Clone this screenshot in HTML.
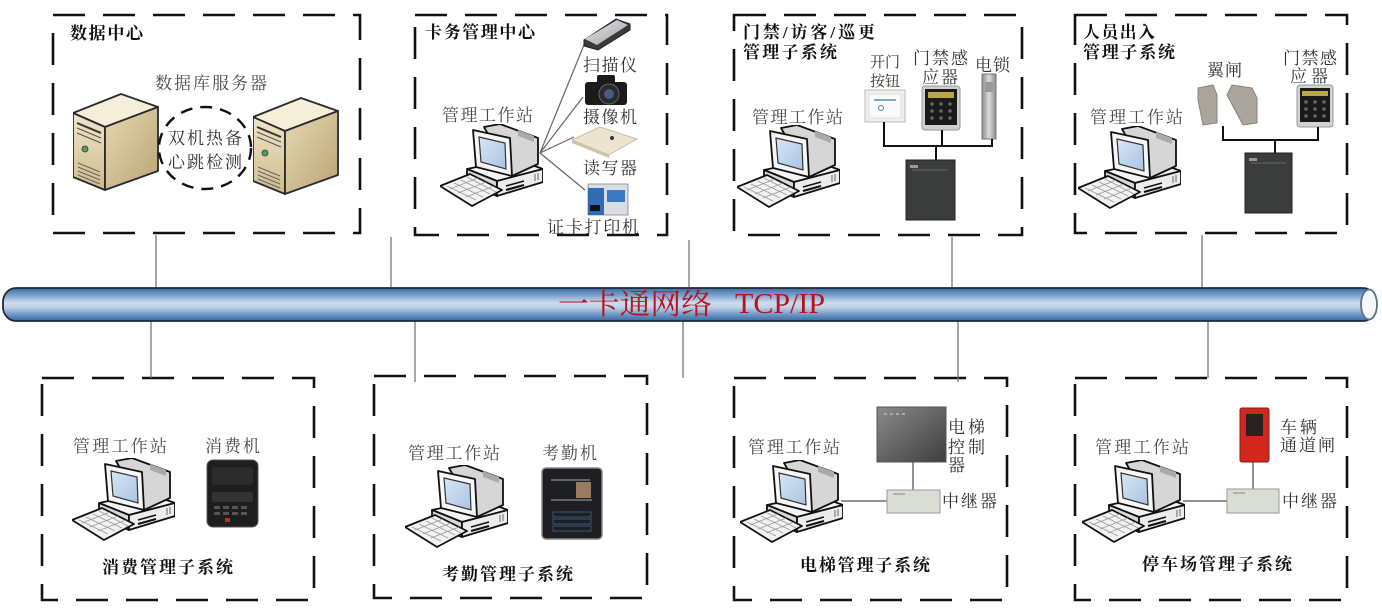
<!DOCTYPE html>
<html><head><meta charset="utf-8"><style>
html,body{margin:0;padding:0;background:#fff;}
svg{display:block;}
text{font-family:"Liberation Serif","Noto Serif CJK SC",serif;}
.lb{font-size:17px;fill:#4a4a4a;}
.tt{font-size:17px;fill:#111;font-weight:bold;}
.dv{font-size:17px;fill:#333;}
.box{fill:none;stroke:#111;stroke-width:2.6;stroke-dasharray:32 18;}
.cn{stroke:#777;stroke-width:1.3;}
.w{stroke:#111;stroke-width:2;fill:none;}
</style></head><body>
<svg width="1382" height="614" viewBox="0 0 1382 614" xmlns="http://www.w3.org/2000/svg">
<defs>
<linearGradient id="bus" x1="0" y1="0" x2="0" y2="1">
<stop offset="0" stop-color="#3b6ca3"/><stop offset="0.18" stop-color="#6e98c6"/>
<stop offset="0.45" stop-color="#cddcee"/><stop offset="0.58" stop-color="#bfd2e8"/>
<stop offset="0.85" stop-color="#5f8cc0"/><stop offset="1" stop-color="#3a69a0"/>
</linearGradient>
<linearGradient id="scr" x1="0" y1="0" x2="1" y2="1">
<stop offset="0" stop-color="#d8e6f6"/><stop offset="1" stop-color="#a9c3e2"/>
</linearGradient>
<linearGradient id="srvF" x1="0" y1="0" x2="0" y2="1">
<stop offset="0" stop-color="#efe5c8"/><stop offset="1" stop-color="#cdbb8c"/>
</linearGradient>
<linearGradient id="srvS" x1="0" y1="0" x2="1" y2="1">
<stop offset="0" stop-color="#e6d9b4"/><stop offset="1" stop-color="#b9a473"/>
</linearGradient>
<linearGradient id="elev" x1="0" y1="0" x2="1" y2="1">
<stop offset="0" stop-color="#8a8a8a"/><stop offset="1" stop-color="#3e3e3e"/>
</linearGradient>
<linearGradient id="silver" x1="0" y1="0" x2="1" y2="0">
<stop offset="0" stop-color="#8d8d8d"/><stop offset="0.5" stop-color="#dcdcdc"/><stop offset="1" stop-color="#8a8a8a"/>
</linearGradient>
<linearGradient id="scan" x1="0" y1="0" x2="1" y2="1">
<stop offset="0" stop-color="#e8eaec"/><stop offset="1" stop-color="#9aa0a6"/>
</linearGradient>
<symbol id="pc" viewBox="0 0 103 83">
<polygon points="27,45 75,35 103,45 57,57" fill="#f4f4f4" stroke="#111" stroke-width="1.8" stroke-linejoin="round"/>
<polygon points="27,45 57,57 57,72 27,60" fill="#d9d9d9" stroke="#111" stroke-width="1.8" stroke-linejoin="round"/>
<polygon points="57,57 103,45 103,58 57,72" fill="#ececec" stroke="#111" stroke-width="1.8" stroke-linejoin="round"/>
<line x1="31" y1="52" x2="31" y2="60" stroke="#666"/><line x1="34" y1="53" x2="34" y2="61" stroke="#666"/><line x1="37" y1="54" x2="37" y2="63" stroke="#666"/>
<line x1="66" y1="62" x2="84" y2="57" stroke="#111" stroke-width="1.6"/><line x1="66" y1="66" x2="84" y2="61" stroke="#111" stroke-width="2.2"/>
<line x1="95" y1="50" x2="95" y2="57" stroke="#666"/><line x1="98" y1="49" x2="98" y2="56" stroke="#666"/>
<polygon points="44,3 60,0 98,14 98,40 72,52" fill="#d6d6d6" stroke="#111" stroke-width="1.8" stroke-linejoin="round"/>
<polygon points="78,6 94,12 94,18 78,12" fill="#aaa"/>
<polygon points="33,6 70,14 72,52 36,43" fill="#f6f6f6" stroke="#111" stroke-width="1.8" stroke-linejoin="round"/>
<polygon points="39,13 65,19 66,45 41,38" fill="url(#scr)" stroke="#333" stroke-width="1.2"/>
<polygon points="0,62 30,50 62,66 32,82" fill="#f2f2f2" stroke="#111" stroke-width="1.8" stroke-linejoin="round"/>
<g stroke="#999" stroke-width="0.8">
<line x1="7" y1="62" x2="36" y2="76"/><line x1="14" y1="59" x2="43" y2="73"/><line x1="21" y1="56" x2="50" y2="70"/><line x1="27" y1="53" x2="56" y2="68"/>
<line x1="10" y1="65" x2="38" y2="54"/><line x1="18" y1="69" x2="46" y2="58"/><line x1="26" y1="73" x2="54" y2="62"/>
</g>
</symbol>
<symbol id="srv" viewBox="0 0 86 98">
<polygon points="0,20 48,1 85,14 32,34" fill="#f5eed8" stroke="#2a2a2a" stroke-width="1.8" stroke-linejoin="round"/>
<polygon points="0,20 32,34 32,97 0,84" fill="url(#srvF)" stroke="#2a2a2a" stroke-width="1.8" stroke-linejoin="round"/>
<polygon points="32,34 85,14 85,78 32,97" fill="url(#srvS)" stroke="#2a2a2a" stroke-width="1.8" stroke-linejoin="round"/>
<line x1="4" y1="30" x2="28" y2="40" stroke="#333" stroke-width="2"/>
<line x1="4" y1="35" x2="28" y2="45" stroke="#555" stroke-width="1.2"/>
<line x1="4" y1="40" x2="28" y2="50" stroke="#555" stroke-width="1.2"/>
<circle cx="12" cy="56" r="3" fill="#5a9a6a" stroke="#333" stroke-width="0.8"/>
<g stroke="#666" stroke-width="1"><line x1="5" y1="70" x2="27" y2="79"/><line x1="5" y1="74" x2="27" y2="83"/><line x1="5" y1="78" x2="27" y2="87"/><line x1="5" y1="82" x2="27" y2="91"/></g>
</symbol>
</defs>

<!-- dashed boxes -->
<rect class="box" x="53" y="15" width="307" height="218"/>
<rect class="box" x="415" y="15" width="252" height="220"/>
<rect class="box" x="734" y="15" width="288" height="220"/>
<rect class="box" x="1075" y="15" width="272" height="218"/>
<rect class="box" x="42" y="378" width="272" height="222"/>
<rect class="box" x="374" y="376" width="273" height="222"/>
<rect class="box" x="734" y="378" width="273" height="222"/>
<rect class="box" x="1075" y="378" width="272" height="222"/>

<!-- connectors -->
<line class="cn" x1="156" y1="235" x2="156" y2="289"/>
<line class="cn" x1="391" y1="237" x2="391" y2="289"/>
<line class="cn" x1="689" y1="240" x2="689" y2="289"/>
<line class="cn" x1="952" y1="237" x2="952" y2="289"/>
<line class="cn" x1="1202" y1="235" x2="1202" y2="289"/>
<line class="cn" x1="151" y1="320" x2="151" y2="378"/>
<line class="cn" x1="415" y1="320" x2="415" y2="382"/>
<line class="cn" x1="683" y1="320" x2="683" y2="378"/>
<line class="cn" x1="958" y1="320" x2="958" y2="382"/>
<line class="cn" x1="1208" y1="320" x2="1208" y2="378"/>

<!-- bus -->
<rect x="3" y="288" width="1373" height="33" rx="13" ry="14" fill="url(#bus)" stroke="#1c2a3a" stroke-width="1.8"/>
<ellipse cx="1369" cy="304.5" rx="8" ry="15" fill="#f4f7fb" stroke="#5a6f88" stroke-width="1.8"/>
<text x="558" y="314" font-size="29" fill="#b8121c" textLength="154" lengthAdjust="spacingAndGlyphs">一卡通网络</text>
<text x="735" y="313" font-size="29" fill="#b8121c" textLength="90" lengthAdjust="spacingAndGlyphs">TCP/IP</text>

<!-- Box1 数据中心 -->
<text class="tt" x="70" y="39" textLength="73">数据中心</text>
<text class="lb" x="155" y="89" textLength="112">数据库服务器</text>
<use href="#srv" x="73" y="93" width="86" height="98"/>
<use href="#srv" x="253" y="97" width="86" height="98"/>
<ellipse cx="205" cy="148" rx="46" ry="41" fill="none" stroke="#111" stroke-width="2.4" stroke-dasharray="12 8"/>
<text class="dv" x="168" y="144" textLength="74">双机热备</text>
<text class="dv" x="168" y="168" textLength="74">心跳检测</text>

<!-- Box2 卡务管理中心 -->
<text class="tt" x="425" y="38" textLength="110">卡务管理中心</text>
<text class="lb" x="442" y="121" textLength="91">管理工作站</text>
<g stroke="#666" stroke-width="1.2">
<line x1="540" y1="153" x2="586" y2="40"/><line x1="540" y1="153" x2="583" y2="97"/>
<line x1="540" y1="153" x2="574" y2="137"/><line x1="540" y1="153" x2="585" y2="190"/>
</g>
<use href="#pc" x="440" y="124" width="103" height="83"/>
<!-- scanner -->
<polygon points="584,40 616,19 630,24 630,30 598,50 584,46" fill="#3a3a3a" stroke="#222"/>
<polygon points="585,39 617,20 628,25 597,45" fill="url(#scan)"/>
<text class="dv" x="583" y="71" textLength="54">扫描仪</text>
<!-- camera -->
<rect x="585" y="82" width="42" height="23" rx="3" fill="#1b1b1b"/>
<rect x="597" y="75" width="18" height="9" rx="2" fill="#1b1b1b"/>
<circle cx="609" cy="94" r="10" fill="#2a2a2a" stroke="#666"/>
<circle cx="609" cy="94" r="5" fill="#4a5b80"/>
<text class="dv" x="583" y="123" textLength="54">摄像机</text>
<!-- reader -->
<polygon points="572,140 600,127 637,139 609,155" fill="#ece4cf" stroke="#c9bfa5"/>
<polygon points="572,140 609,155 609,158 572,143" fill="#cfc5a8"/>
<circle cx="612" cy="138" r="2" fill="#333"/>
<text class="dv" x="583" y="174" textLength="54">读写器</text>
<!-- printer -->
<rect x="588" y="184" width="40" height="31" fill="#d9dee6" stroke="#888" stroke-width="0.8"/>
<rect x="588" y="188" width="16" height="27" fill="#2e6db5"/>
<rect x="607" y="190" width="18" height="12" fill="#3b7ac2"/>
<rect x="590" y="205" width="10" height="6" fill="#111"/>
<text class="dv" x="547" y="233" textLength="92">证卡打印机</text>

<!-- Box3 门禁 -->
<text class="tt" x="743" y="38" textLength="132">门禁/访客/巡更</text>
<text class="tt" x="743" y="58" textLength="94">管理子系统</text>
<text x="870" y="67" font-size="15" fill="#333">开门</text>
<text x="870" y="86" font-size="15" fill="#333">按钮</text>
<text class="dv" x="913" y="64" textLength="55">门禁感</text>
<text class="dv" x="922" y="83" textLength="36">应器</text>
<text class="dv" x="975" y="71" textLength="35">电锁</text>
<text class="lb" x="752" y="123" textLength="91">管理工作站</text>
<use href="#pc" x="737" y="125" width="103" height="83"/>
<rect x="865" y="90" width="40" height="32" fill="#eef1ea" stroke="#bbb"/>
<rect x="869" y="94" width="32" height="24" fill="#fafafa" stroke="#ddd"/>
<line x1="874" y1="100" x2="896" y2="100" stroke="#5a8ab8" stroke-width="1.5"/>
<circle cx="881" cy="108" r="2.5" fill="none" stroke="#4a7ab0"/>
<rect x="922" y="86" width="38" height="44" rx="3" fill="#cfcfcf" stroke="#999"/>
<rect x="925" y="89" width="32" height="36" fill="#1a1a1a"/>
<rect x="928" y="92" width="26" height="6" fill="#b9a64a"/>
<g fill="#666"><circle cx="932" cy="104" r="1.8"/><circle cx="941" cy="104" r="1.8"/><circle cx="950" cy="104" r="1.8"/>
<circle cx="932" cy="111" r="1.8"/><circle cx="941" cy="111" r="1.8"/><circle cx="950" cy="111" r="1.8"/>
<circle cx="932" cy="118" r="1.8"/><circle cx="941" cy="118" r="1.8"/><circle cx="950" cy="118" r="1.8"/></g>
<rect x="982" y="74" width="14" height="65" fill="url(#silver)" stroke="#777"/>
<rect x="985" y="82" width="8" height="10" fill="#999"/>
<polyline class="w" points="884,122 884,146 992,146 992,139"/>
<line class="w" x1="942" y1="130" x2="942" y2="146"/>
<line class="w" x1="936" y1="146" x2="936" y2="160"/>
<rect x="906" y="160" width="49" height="60" fill="#3b3c3c" stroke="#222"/>
<rect x="910" y="165" width="8" height="3" fill="#999"/>
<line x1="912" y1="170" x2="948" y2="170" stroke="#666"/>

<!-- Box4 人员出入 -->
<text class="tt" x="1083" y="38" textLength="72">人员出入</text>
<text class="tt" x="1083" y="58" textLength="92">管理子系统</text>
<text class="dv" x="1207" y="76" textLength="35">翼闸</text>
<text class="dv" x="1283" y="64" textLength="54">门禁感</text>
<text class="dv" x="1290" y="82" textLength="38">应器</text>
<text class="lb" x="1090" y="123" textLength="93">管理工作站</text>
<use href="#pc" x="1078" y="126" width="103" height="83"/>
<polygon points="1198,88 1213,85 1217,95 1217,123 1203,125 1198,100" fill="#a9a49c" stroke="#8a857c"/>
<polygon points="1227,95 1232,85 1252,88 1257,98 1257,123 1243,125" fill="#aaa59d" stroke="#8a857c"/>
<rect x="1297" y="85" width="36" height="42" rx="3" fill="#d2d2d2" stroke="#999"/>
<rect x="1300" y="88" width="30" height="34" fill="#1a1a1a"/>
<rect x="1302" y="91" width="26" height="5" fill="#b9a64a"/>
<g fill="#666"><circle cx="1306" cy="102" r="1.8"/><circle cx="1315" cy="102" r="1.8"/><circle cx="1324" cy="102" r="1.8"/>
<circle cx="1306" cy="109" r="1.8"/><circle cx="1315" cy="109" r="1.8"/><circle cx="1324" cy="109" r="1.8"/>
<circle cx="1306" cy="116" r="1.8"/><circle cx="1315" cy="116" r="1.8"/><circle cx="1324" cy="116" r="1.8"/></g>
<polyline class="w" points="1223,126 1223,140 1318,140 1318,127"/>
<line class="w" x1="1275" y1="140" x2="1275" y2="153"/>
<rect x="1245" y="153" width="47" height="60" fill="#3b3c3c" stroke="#222"/>
<rect x="1249" y="158" width="8" height="3" fill="#999"/>
<line x1="1251" y1="163" x2="1286" y2="163" stroke="#666"/>

<!-- Box5 消费 -->
<text class="lb" x="73" y="452" textLength="94">管理工作站</text>
<text class="lb" x="205" y="452" textLength="55">消费机</text>
<use href="#pc" x="72" y="458" width="103" height="83"/>
<rect x="207" y="460" width="51" height="67" rx="6" fill="#1e1e1e" stroke="#555"/>
<rect x="212" y="467" width="41" height="18" rx="3" fill="#2c2c2c"/>
<rect x="212" y="492" width="41" height="10" rx="2" fill="#333"/>
<g fill="#555"><rect x="214" y="506" width="6" height="3"/><rect x="223" y="506" width="6" height="3"/><rect x="232" y="506" width="6" height="3"/><rect x="241" y="506" width="6" height="3"/>
<rect x="214" y="512" width="6" height="3"/><rect x="223" y="512" width="6" height="3"/><rect x="232" y="512" width="6" height="3"/><rect x="241" y="512" width="6" height="3"/></g>
<rect x="225" y="518" width="5" height="4" fill="#a33"/>
<text class="tt" x="102" y="573" textLength="131">消费管理子系统</text>

<!-- Box6 考勤 -->
<text class="lb" x="408" y="459" textLength="92">管理工作站</text>
<text class="lb" x="542" y="459" textLength="55">考勤机</text>
<use href="#pc" x="405" y="465" width="103" height="83"/>
<rect x="542" y="468" width="60" height="71" rx="4" fill="#1e1f22" stroke="#888" stroke-width="1.5"/>
<line x1="551" y1="480" x2="590" y2="480" stroke="#aaa"/>
<line x1="551" y1="500" x2="592" y2="500" stroke="#aaa"/>
<rect x="576" y="482" width="15" height="16" fill="#9a7a60"/>
<g fill="none" stroke="#3d6a8a" stroke-width="0.8"><rect x="553" y="512" width="38" height="5"/><rect x="553" y="519" width="38" height="5"/><rect x="553" y="526" width="38" height="5"/></g>
<text class="tt" x="442" y="580" textLength="131">考勤管理子系统</text>

<!-- Box7 电梯 -->
<text class="lb" x="748" y="453" textLength="92">管理工作站</text>
<use href="#pc" x="740" y="460" width="103" height="83"/>
<rect x="877" y="407" width="69" height="55" fill="url(#elev)" stroke="#555"/>
<g fill="#aaa"><rect x="884" y="413" width="3" height="2"/><rect x="890" y="413" width="3" height="2"/><rect x="896" y="413" width="3" height="2"/><rect x="902" y="413" width="3" height="2"/></g>
<text class="dv" x="948" y="433" textLength="37">电梯</text>
<text class="dv" x="948" y="453" textLength="37">控制</text>
<text class="dv" x="948" y="471" textLength="19">器</text>
<line x1="913" y1="462" x2="913" y2="490" stroke="#555" stroke-width="1.3"/>
<line x1="841" y1="501" x2="887" y2="501" stroke="#555" stroke-width="1.3"/>
<rect x="887" y="490" width="53" height="23" fill="#d9ddd3" stroke="#9a9a9a"/>
<line x1="893" y1="494" x2="905" y2="494" stroke="#888"/>
<text class="dv" x="942" y="507" textLength="55">中继器</text>
<text class="tt" x="800" y="571" textLength="130">电梯管理子系统</text>

<!-- Box8 停车场 -->
<text class="lb" x="1095" y="453" textLength="94">管理工作站</text>
<use href="#pc" x="1082" y="460" width="103" height="83"/>
<rect x="1240" y="408" width="29" height="54" rx="2" fill="#d3271d" stroke="#8a1a14"/>
<rect x="1246" y="414" width="17" height="22" fill="#2a2222"/>
<line x1="1253" y1="462" x2="1253" y2="489" stroke="#555" stroke-width="1.3"/>
<line x1="1183" y1="501" x2="1227" y2="501" stroke="#555" stroke-width="1.3"/>
<rect x="1227" y="489" width="52" height="24" fill="#d9ddd3" stroke="#9a9a9a"/>
<line x1="1233" y1="493" x2="1245" y2="493" stroke="#888"/>
<text class="dv" x="1280" y="433" textLength="37">车辆</text>
<text class="dv" x="1280" y="451" textLength="55">通道闸</text>
<text class="dv" x="1282" y="507" textLength="55">中继器</text>
<text class="tt" x="1142" y="570" textLength="150">停车场管理子系统</text>
</svg>
</body></html>
